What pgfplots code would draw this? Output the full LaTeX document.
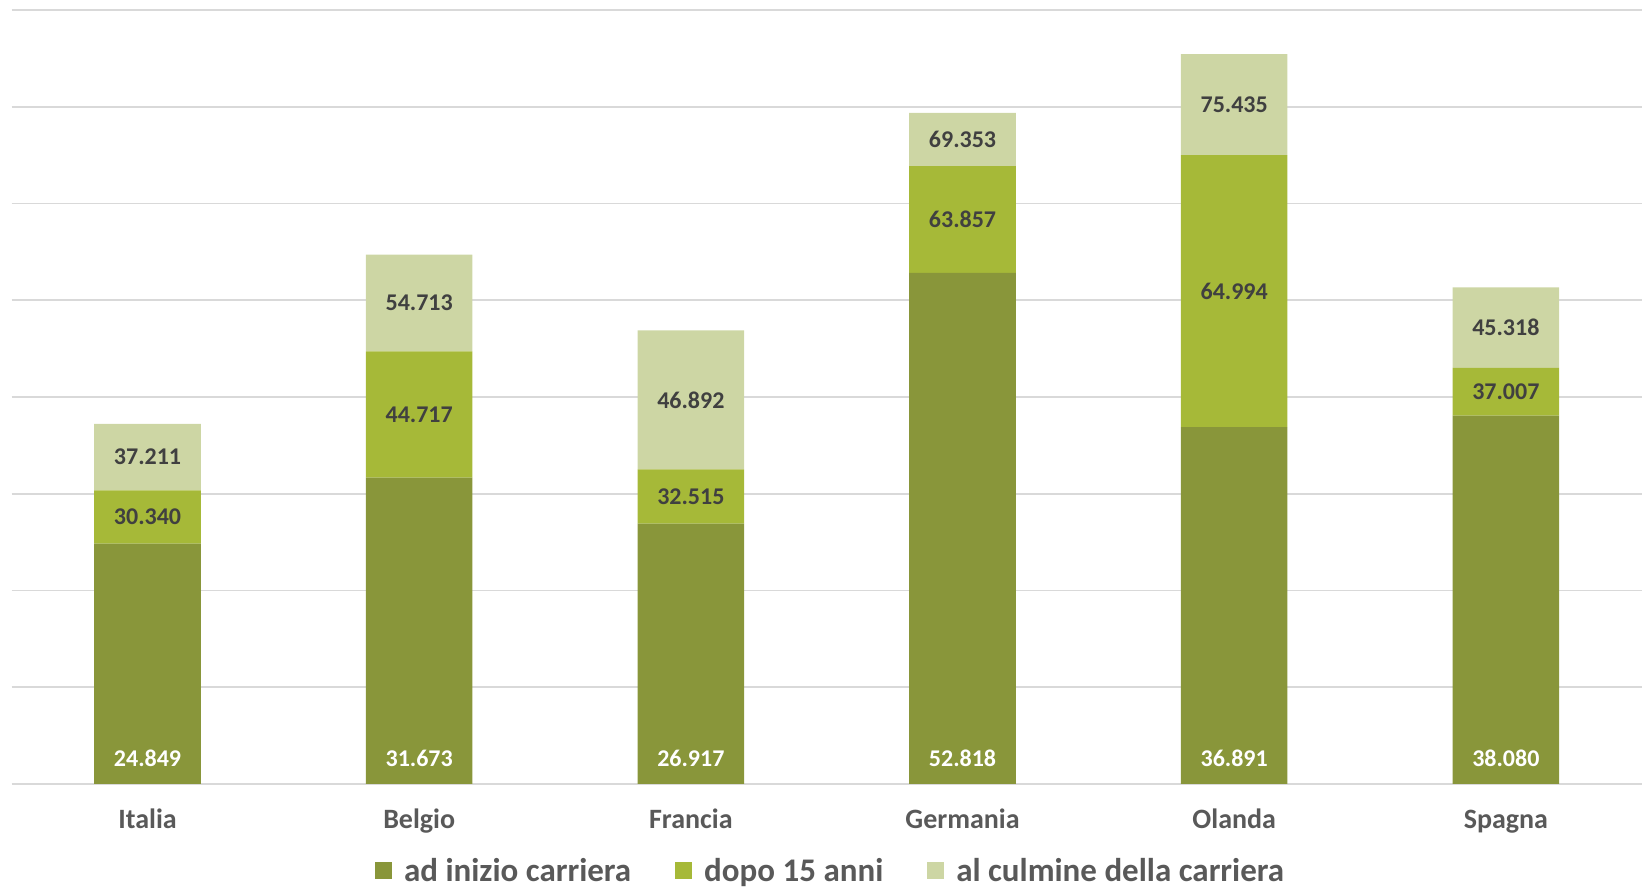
\documentclass[border=0pt]{standalone}
\usepackage{fontspec}
\setmainfont{Carlito}
\usepackage{pgfplots}
\usepackage{pgfplotstable}
\pgfplotsset{compat=1.18}
\definecolor{cA}{HTML}{89963A}
\definecolor{cB}{HTML}{A6B938}
\definecolor{cC}{HTML}{CDD6A4}
\definecolor{gridc}{HTML}{D9D9D9}
\definecolor{txt}{HTML}{404040}
\definecolor{cat}{HTML}{595959}
% cumulative levels (heights) and printed labels
\pgfplotstableread{
x a b c la lb lc
0 24.849 30.340 37.211 24.849 30.340 37.211
1 31.673 44.717 54.713 31.673 44.717 54.713
2 26.917 32.515 46.892 26.917 32.515 46.892
3 52.818 63.857 69.353 52.818 63.857 69.353
4 36.891 64.994 75.435 36.891 64.994 75.435
5 38.080 43.007 51.318 38.080 37.007 45.318
}\data
\pgfplotsset{common/.style={
  scale only axis, width=815pt, height=387pt,
  xmin=-0.5, xmax=5.5, ymin=0, ymax=80,
  at={(0,0)}, anchor=south west,
}}
\begin{document}
\begin{tikzpicture}
\begin{axis}[common,
  ybar stacked, bar width=53.3pt,
  axis line style={draw=none}, major tick length=0pt,
  ymajorgrids, grid style={line width=0.8pt, color=gridc},
  ytick={0,10,...,80}, yticklabels={},
  xtick={0,...,5}, xticklabels={Italia,Belgio,Francia,Germania,Olanda,Spagna},
  xticklabel style={anchor=base, yshift=-22.5pt, text=cat, font=\fontsize{14}{16}\selectfont\bfseries},
  legend style={at={(0.503,0)}, anchor=center, yshift=-43.5pt, draw=none, fill=none,
    font=\fontsize{16.5}{19}\selectfont\bfseries, text=cat,
    /tikz/every odd column/.append style={column sep=4pt},
    /tikz/every even column/.append style={column sep=20pt}},
  legend columns=3,
  legend image code/.code={\fill[#1] (0pt,-4.25pt) rectangle (8.5pt,4.25pt);},
]
\addplot[fill=cA, draw=none] table[x=x, y=a] {\data};
\addplot[fill=cB, draw=none] table[x=x, y expr=\thisrow{b}-\thisrow{a}] {\data};
\addplot[fill=cC, draw=none] table[x=x, y expr=\thisrow{c}-\thisrow{b}] {\data};
\legend{ad inizio carriera, dopo 15 anni, al culmine della carriera}
\end{axis}
\begin{axis}[common, hide axis, clip=false]
\addplot[draw=none, mark=none, nodes near coords, point meta=explicit symbolic,
  every node near coord/.style={anchor=center, yshift=13pt, text=white, font=\fontsize{12}{14}\selectfont\bfseries}]
  table[x=x, y expr=0, meta=la] {\data};
\addplot[draw=none, mark=none, nodes near coords, point meta=explicit symbolic,
  every node near coord/.style={anchor=center, text=txt, font=\fontsize{12}{14}\selectfont\bfseries}]
  table[x=x, y expr=(\thisrow{a}+\thisrow{b})/2, meta=lb] {\data};
\addplot[draw=none, mark=none, nodes near coords, point meta=explicit symbolic,
  every node near coord/.style={anchor=center, text=txt, font=\fontsize{12}{14}\selectfont\bfseries}]
  table[x=x, y expr=(\thisrow{b}+\thisrow{c})/2, meta=lc] {\data};
\end{axis}
\pgfresetboundingbox
\path[use as bounding box] (-5.85pt,-54pt) rectangle (817.15pt,392pt);
\end{tikzpicture}
\end{document}
